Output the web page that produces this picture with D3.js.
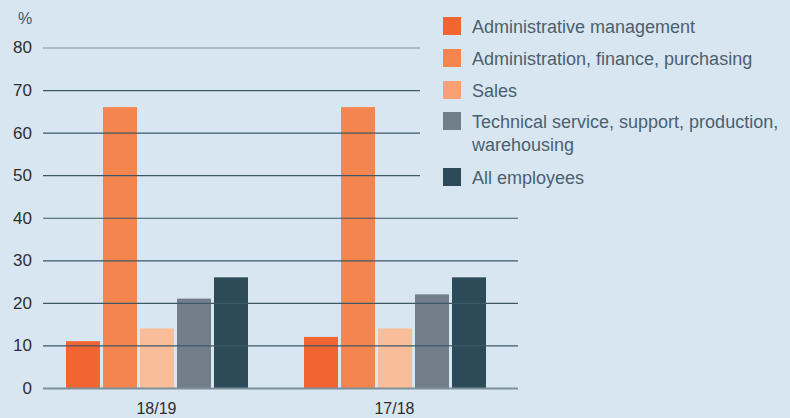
<!DOCTYPE html>
<html>
<head>
<meta charset="utf-8">
<script src="https://cdn.jsdelivr.net/npm/d3@7"></script>
<style>
  html, body { margin: 0; padding: 0; background: #d8e6f1; }
  svg { display: block; font-family: "Liberation Sans", Arial, sans-serif; }
</style>
</head>
<body>
<div id="chart"></div>
<script>
// periods on the x axis
const periods = ['18/19', '17/18'];
// employee groups (legend order)
const groups = [
    'Administrative management',
    'Administration, finance, purchasing',
    'Sales',
    'Technical service, support, production, warehousing',
    'All employees'
];
// values in %, one array per group, in order of periods
const adminMgmt = [11, 12];
const adminFinance = [66, 66];
const sales = [14, 14];
const technical = [21, 22];
const allEmployees = [26, 26];
const yTicks = [0, 10, 20, 30, 40, 50, 60, 70, 80];

const barColors = ['#f26430', '#f5854f', '#f9bd9a', '#727e8a', '#2d4a58'];
const legendColors = ['#f26430', '#f5854f', '#f9a075', '#727e8a', '#2d4a58'];

const width = 790, height = 418;
const seriesValues = [adminMgmt, adminFinance, sales, technical, allEmployees];

const svg = d3.select('#chart').append('svg')
    .attr('width', width)
    .attr('height', height);

const y = d3.scaleLinear().domain([0, 80]).range([388, 47.5]);

const x0 = d3.scaleBand().domain(periods).range([37.5, 513.5]);
const x1 = d3.scaleBand().domain(groups).range([28.5, 210.5]).paddingInner(3 / 37);

// bars
const rows = periods.map((p, i) => ({
    period: p,
    values: groups.map((g, j) => ({ group: g, idx: j, value: seriesValues[j][i] }))
}));

svg.append('g').selectAll('g')
    .data(rows)
    .join('g')
    .attr('transform', d => `translate(${x0(d.period)},0)`)
    .selectAll('rect')
    .data(d => d.values)
    .join('rect')
    .attr('x', d => x1(d.group))
    .attr('width', x1.bandwidth())
    .attr('y', d => y(d.value))
    .attr('height', d => y(0) - y(d.value))
    .attr('fill', d => barColors[d.idx]);

// gridlines on top of bars
const yAxis = d3.axisLeft(y)
    .tickValues(yTicks)
    .tickSize(-475)
    .tickPadding(11);

const ga = svg.append('g')
    .attr('transform', 'translate(43,0)')
    .call(yAxis);
ga.select('.domain').remove();
ga.selectAll('.tick line')
    .attr('stroke', d => (d === 0 || d === 80) ? '#7d909c' : '#3e5866')
    .attr('stroke-width', d => d === 0 ? 2 : 1.2);
ga.selectAll('.tick text')
    .attr('fill', '#2e2e2e')
    .attr('font-size', 17);

svg.append('text')
    .attr('x', 25).attr('y', 24)
    .attr('text-anchor', 'middle')
    .attr('fill', '#3e5866')
    .attr('font-size', 16)
    .text('%');

// x labels
svg.append('g').selectAll('text')
    .data(periods)
    .join('text')
    .attr('x', d => x0(d) + x0.bandwidth() / 2)
    .attr('y', 414)
    .attr('text-anchor', 'middle')
    .attr('fill', '#2e2e2e')
    .attr('font-size', 16)
    .text(d => d);

// legend, with a background box hiding the gridlines behind it
const legendY = [17, 49, 81, 112, 168];
const legend = svg.append('g');
legend.append('rect')
    .attr('x', 420).attr('y', 0)
    .attr('width', 370).attr('height', 200)
    .attr('fill', '#d8e6f1');
groups.forEach((g, i) => {
    legend.append('rect')
        .attr('x', 443).attr('y', legendY[i])
        .attr('width', 18).attr('height', 18)
        .attr('fill', legendColors[i]);
    const t = legend.append('text')
        .attr('x', 472).attr('y', legendY[i] + 16)
        .attr('fill', '#4a6070')
        .attr('font-size', 18);
    if (i === 3) {
        t.append('tspan').attr('x', 472).text('Technical service, support, production,');
        t.append('tspan').attr('x', 472).attr('dy', 23).text('warehousing');
    } else {
        t.text(g);
    }
});
</script>
</body>
</html>
